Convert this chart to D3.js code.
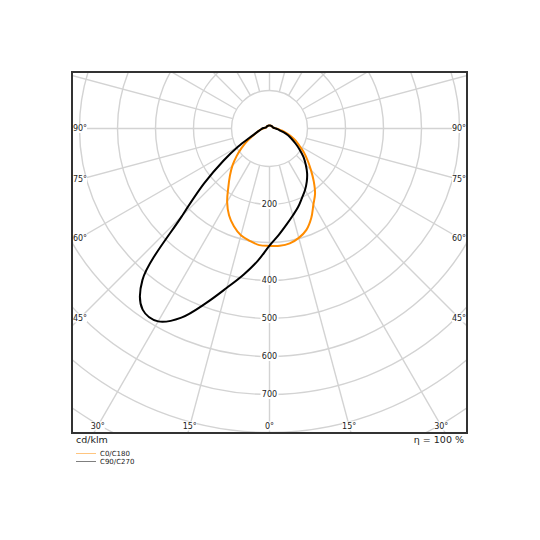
<!DOCTYPE html>
<html>
<head>
<meta charset="utf-8">
<script src="https://cdn.jsdelivr.net/npm/d3@7"></script>
<style>
  body { margin: 0; background: #fff; }
  text { font-family: "DejaVu Sans", sans-serif; fill: #222; }
</style>
</head>
<body>
<svg id="chart" width="540" height="540"></svg>
<script>
// gamma angles (deg) and intensities in cd/klm for each C half-plane
const gammas = [0, 5, 10, 15, 20, 25, 30, 35, 40, 45, 50, 55, 60, 65, 70, 75, 80, 85, 90,
  95, 100, 105, 110, 115, 120, 125, 130, 135, 140, 145, 150, 155, 160, 165, 170, 175, 180]

const c0 = [309, 310, 307, 298, 284, 260, 231, 209, 181, 154, 131, 111, 91, 76, 60, 46, 34, 25, 18,
  13, 11, 10, 9, 9, 9, 9, 9, 9, 8, 8, 8, 8, 8, 8, 8, 8, 8]
const c180 = [309, 308, 300, 291, 274, 252, 223, 189, 162, 138, 113, 90, 70, 52, 40, 32, 26, 21, 17,
  13, 11, 10, 9, 9, 9, 9, 9, 9, 8, 8, 8, 8, 8, 8, 8, 8, 8]
const c90 = [308, 281, 257, 237, 220, 202, 187, 171, 154, 135, 117, 97, 79, 64, 52, 38, 27, 21, 17,
  13, 11, 10, 9, 9, 9, 9, 9, 9, 8, 8, 8, 8, 8, 8, 8, 8, 8]
const c270 = [308, 349, 390, 434, 489, 549, 586, 582, 520, 326, 224, 148, 95, 58, 41, 32, 26, 22, 19,
  15, 12, 10, 9, 9, 9, 9, 9, 9, 8, 8, 8, 8, 8, 8, 8, 8, 8]

const ringValues = [100, 200, 300, 400, 500, 600, 700, 800, 900, 1000]
const ringLabels = [200, 400, 500, 600, 700]
const spokeAngles = d3.range(0, 360, 15)
const labelAngles = [0, 15, 30, 45, 60, 75, 90]

const planes = [
  {name: 'C0/C180', right: c0, left: c180, color: '#ff8c00'},
  {name: 'C90/C270', right: c90, left: c270, color: '#000000'},
]

const box = {x0: 72, y0: 72, x1: 467, y1: 433}
const cx = 269.5, cy = 128.5

const r = d3.scaleLinear().domain([0, 100]).range([0, 38])
const rad = (d) => d * Math.PI / 180

const svg = d3.select('#chart')
svg.append('rect').attr('width', 540).attr('height', 540).attr('fill', '#fff')

svg.append('clipPath').attr('id', 'clip')
  .append('rect')
  .attr('x', box.x0).attr('y', box.y0)
  .attr('width', box.x1 - box.x0).attr('height', box.y1 - box.y0)

const plot = svg.append('g').attr('clip-path', 'url(#clip)')
const g = plot.append('g').attr('transform', `translate(${cx},${cy})`)

// spokes start at the first ring, every 15 degrees
g.append('g')
  .selectAll('line')
  .data(spokeAngles)
  .join('line')
  .attr('x1', (d) => r(100) * Math.sin(rad(d)))
  .attr('y1', (d) => r(100) * Math.cos(rad(d)))
  .attr('x2', (d) => r(1100) * Math.sin(rad(d)))
  .attr('y2', (d) => r(1100) * Math.cos(rad(d)))
  .attr('stroke', '#d3d3d3')
  .attr('stroke-width', 1.4)

g.append('g')
  .selectAll('circle')
  .data(ringValues)
  .join('circle')
  .attr('r', (d) => r(d))
  .attr('fill', 'none')
  .attr('stroke', '#d3d3d3')
  .attr('stroke-width', 1.4)

// radial value labels along the 0 deg spoke
const rl = g.append('g')
  .selectAll('g')
  .data(ringLabels)
  .join('g')
  .attr('transform', (d) => `translate(0,${r(d)})`)
rl.append('rect')
  .attr('x', -9).attr('y', -4.5).attr('width', 18).attr('height', 9)
  .attr('fill', '#fff')
rl.append('text')
  .attr('text-anchor', 'middle')
  .attr('dy', '0.35em')
  .attr('font-size', 8)
  .text((d) => d)

// light distribution curves
const curve = d3.lineRadial()
  .angle((d) => d.a)
  .radius((d) => r(d.v))
  .curve(d3.curveCatmullRomClosed)

planes.forEach((p) => {
  const pts = []
  for (let i = gammas.length - 1; i >= 0; i--) {
    pts.push({a: Math.PI + rad(gammas[i]), v: p.left[i]})
  }
  for (let i = 1; i < gammas.length - 1; i++) {
    pts.push({a: Math.PI - rad(gammas[i]), v: p.right[i]})
  }
  g.append('path')
    .attr('d', curve(pts))
    .attr('fill', 'none')
    .attr('stroke', p.color)
    .attr('stroke-width', 2)
    .attr('stroke-linejoin', 'round')
})

// angle labels where the spokes leave the frame
const angleLabels = []
labelAngles.forEach((a) => {
  const s = Math.sin(rad(a)), c = Math.cos(rad(a))
  const yBottom = box.y1 - 7
  const xHit = (yBottom - cy) * s / c
  if (a < 90 && cx - xHit > box.x0 + 10) {
    angleLabels.push({x: cx - xHit, y: yBottom, a})
    if (a > 0) angleLabels.push({x: cx + xHit, y: yBottom, a})
  } else {
    const dx = cx - (box.x0 + 8)
    const y = cy + dx * c / s
    angleLabels.push({x: box.x0 + 8, y, a})
    angleLabels.push({x: box.x1 - 8, y, a})
  }
})

const al = svg.append('g')
  .selectAll('g')
  .data(angleLabels)
  .join('g')
  .attr('transform', (d) => `translate(${d.x},${d.y})`)
al.append('rect')
  .attr('x', -7).attr('y', -4.5).attr('width', 14).attr('height', 9)
  .attr('fill', '#fff')
al.append('text')
  .attr('text-anchor', 'middle')
  .attr('dy', '0.35em')
  .attr('font-size', 8)
  .text((d) => d.a + '°')

svg.append('rect')
  .attr('x', box.x0).attr('y', box.y0)
  .attr('width', box.x1 - box.x0).attr('height', box.y1 - box.y0)
  .attr('fill', 'none')
  .attr('stroke', '#333')
  .attr('stroke-width', 2)

svg.append('text')
  .attr('x', 76).attr('y', 443)
  .attr('font-size', 9.5)
  .text('cd/klm')

svg.append('text')
  .attr('x', 464).attr('y', 443)
  .attr('text-anchor', 'end')
  .attr('font-size', 9.5)
  .text('η = 100 %')

const legend = svg.append('g')
  .selectAll('g')
  .data(planes)
  .join('g')
  .attr('transform', (d, i) => `translate(76,${453.5 + i * 8})`)
legend.append('line')
  .attr('x1', 0).attr('x2', 20)
  .attr('stroke', (d) => d.color)
  .attr('stroke-opacity', 0.5)
  .attr('stroke-width', 1)
legend.append('text')
  .attr('x', 24)
  .attr('dy', '0.35em')
  .attr('font-size', 7)
  .text((d) => d.name)
</script>
</body>
</html>
